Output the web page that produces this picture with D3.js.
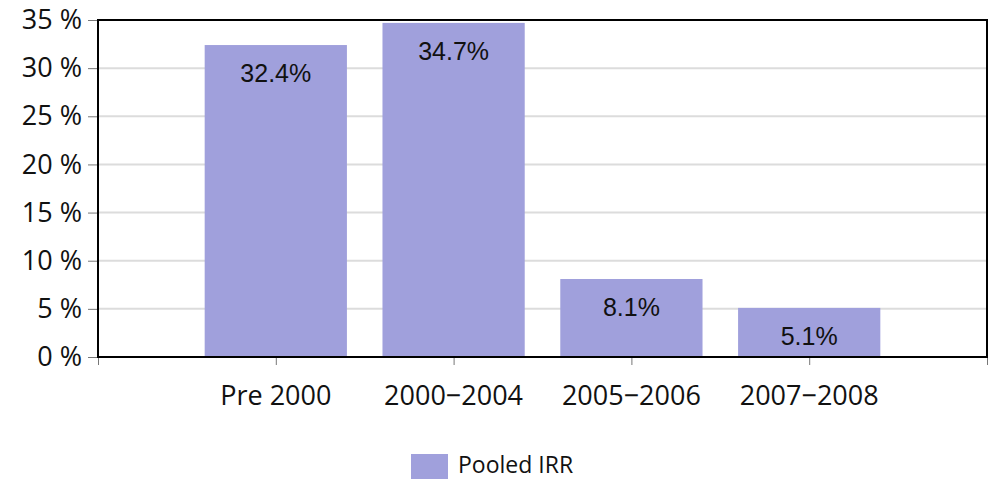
<!DOCTYPE html>
<html>
<head>
<meta charset="utf-8">
<script src="https://cdn.jsdelivr.net/npm/d3@7"></script>
<style>
  body { margin: 0; background: #fff; }
  svg { display: block; }
</style>
</head>
<body>
<div id="chart"></div>
<script>
const categories = ["Pre 2000", "2000\u22122004", "2005\u22122006", "2007\u22122008"];
const pooledIRR = [32.4, 34.7, 8.1, 5.1];
const yTicks = [0, 5, 10, 15, 20, 25, 30, 35];
const seriesName = "Pooled IRR";

const width = 993;
const height = 480;
const margin = { top: 20, right: 6, bottom: 123, left: 98 };
const barColor = "#a0a0dc";
const axisFont = "'Open Sans', sans-serif";

const svg = d3.select("#chart").append("svg")
  .attr("width", width)
  .attr("height", height);

const x = d3.scaleLinear()
  .domain([0, categories.length + 1])
  .range([margin.left, width - margin.right]);

const y = d3.scaleLinear()
  .domain([0, 35])
  .range([height - margin.bottom, margin.top]);

const step = x(1) - x(0);
const barW = step * 0.8;

// gridlines
svg.append("g")
  .selectAll("line")
  .data(yTicks.slice(1, -1))
  .join("line")
  .attr("x1", margin.left)
  .attr("x2", width - margin.right)
  .attr("y1", d => y(d))
  .attr("y2", d => y(d))
  .style("stroke", "#dcdcdc")
  .style("stroke-width", 2);

// y axis
const yAxis = svg.append("g")
  .attr("transform", `translate(${margin.left},0)`)
  .call(d3.axisLeft(y).tickValues(yTicks).tickSize(10).tickPadding(6).tickFormat(d => d + " %"));
yAxis.select(".domain").remove();
yAxis.selectAll(".tick line").style("stroke", "#777").style("stroke-width", 1);
yAxis.selectAll(".tick text")
  .style("font-family", axisFont)
  .style("font-size", "27px")
  .style("fill", "#111");

// x axis ticks
const xAxis = svg.append("g")
  .attr("transform", `translate(0,${y(0)})`)
  .call(d3.axisBottom(x).tickValues(d3.range(0, categories.length + 2)).tickSize(8).tickFormat(""));
xAxis.select(".domain").remove();
xAxis.selectAll(".tick line").style("stroke", "#777").style("stroke-width", 1);

// category labels
svg.append("g")
  .selectAll("text")
  .data(categories)
  .join("text")
  .attr("x", (d, i) => x(i + 1))
  .attr("y", y(0) + 48)
  .attr("text-anchor", "middle")
  .style("font-family", axisFont)
  .style("font-size", "27px")
  .style("fill", "#111")
  .text(d => d);

// bars
svg.append("g")
  .selectAll("rect")
  .data(pooledIRR)
  .join("rect")
  .attr("x", (d, i) => x(i + 1) - barW / 2)
  .attr("y", d => y(d))
  .attr("width", barW)
  .attr("height", d => y(0) - y(d))
  .style("fill", barColor);

// value labels
svg.append("g")
  .selectAll("text")
  .data(pooledIRR)
  .join("text")
  .attr("x", (d, i) => x(i + 1))
  .attr("y", d => y(d) + 37)
  .attr("text-anchor", "middle")
  .style("font-family", "'Liberation Sans', Arial, sans-serif")
  .style("font-size", "25px")
  .style("fill", "#111")
  .text(d => d.toFixed(1) + "%");

// frame
svg.append("rect")
  .attr("x", margin.left)
  .attr("y", margin.top)
  .attr("width", width - margin.left - margin.right)
  .attr("height", y(0) - margin.top)
  .style("fill", "none")
  .style("stroke", "#000")
  .style("stroke-width", 2);

// legend
const legend = svg.append("g").attr("transform", "translate(411,454)");
legend.append("rect")
  .attr("width", 37)
  .attr("height", 25)
  .style("fill", barColor);
legend.append("text")
  .attr("x", 47)
  .attr("y", 19)
  .style("font-family", axisFont)
  .style("font-size", "23px")
  .style("fill", "#111")
  .text(seriesName);
</script>
</body>
</html>
